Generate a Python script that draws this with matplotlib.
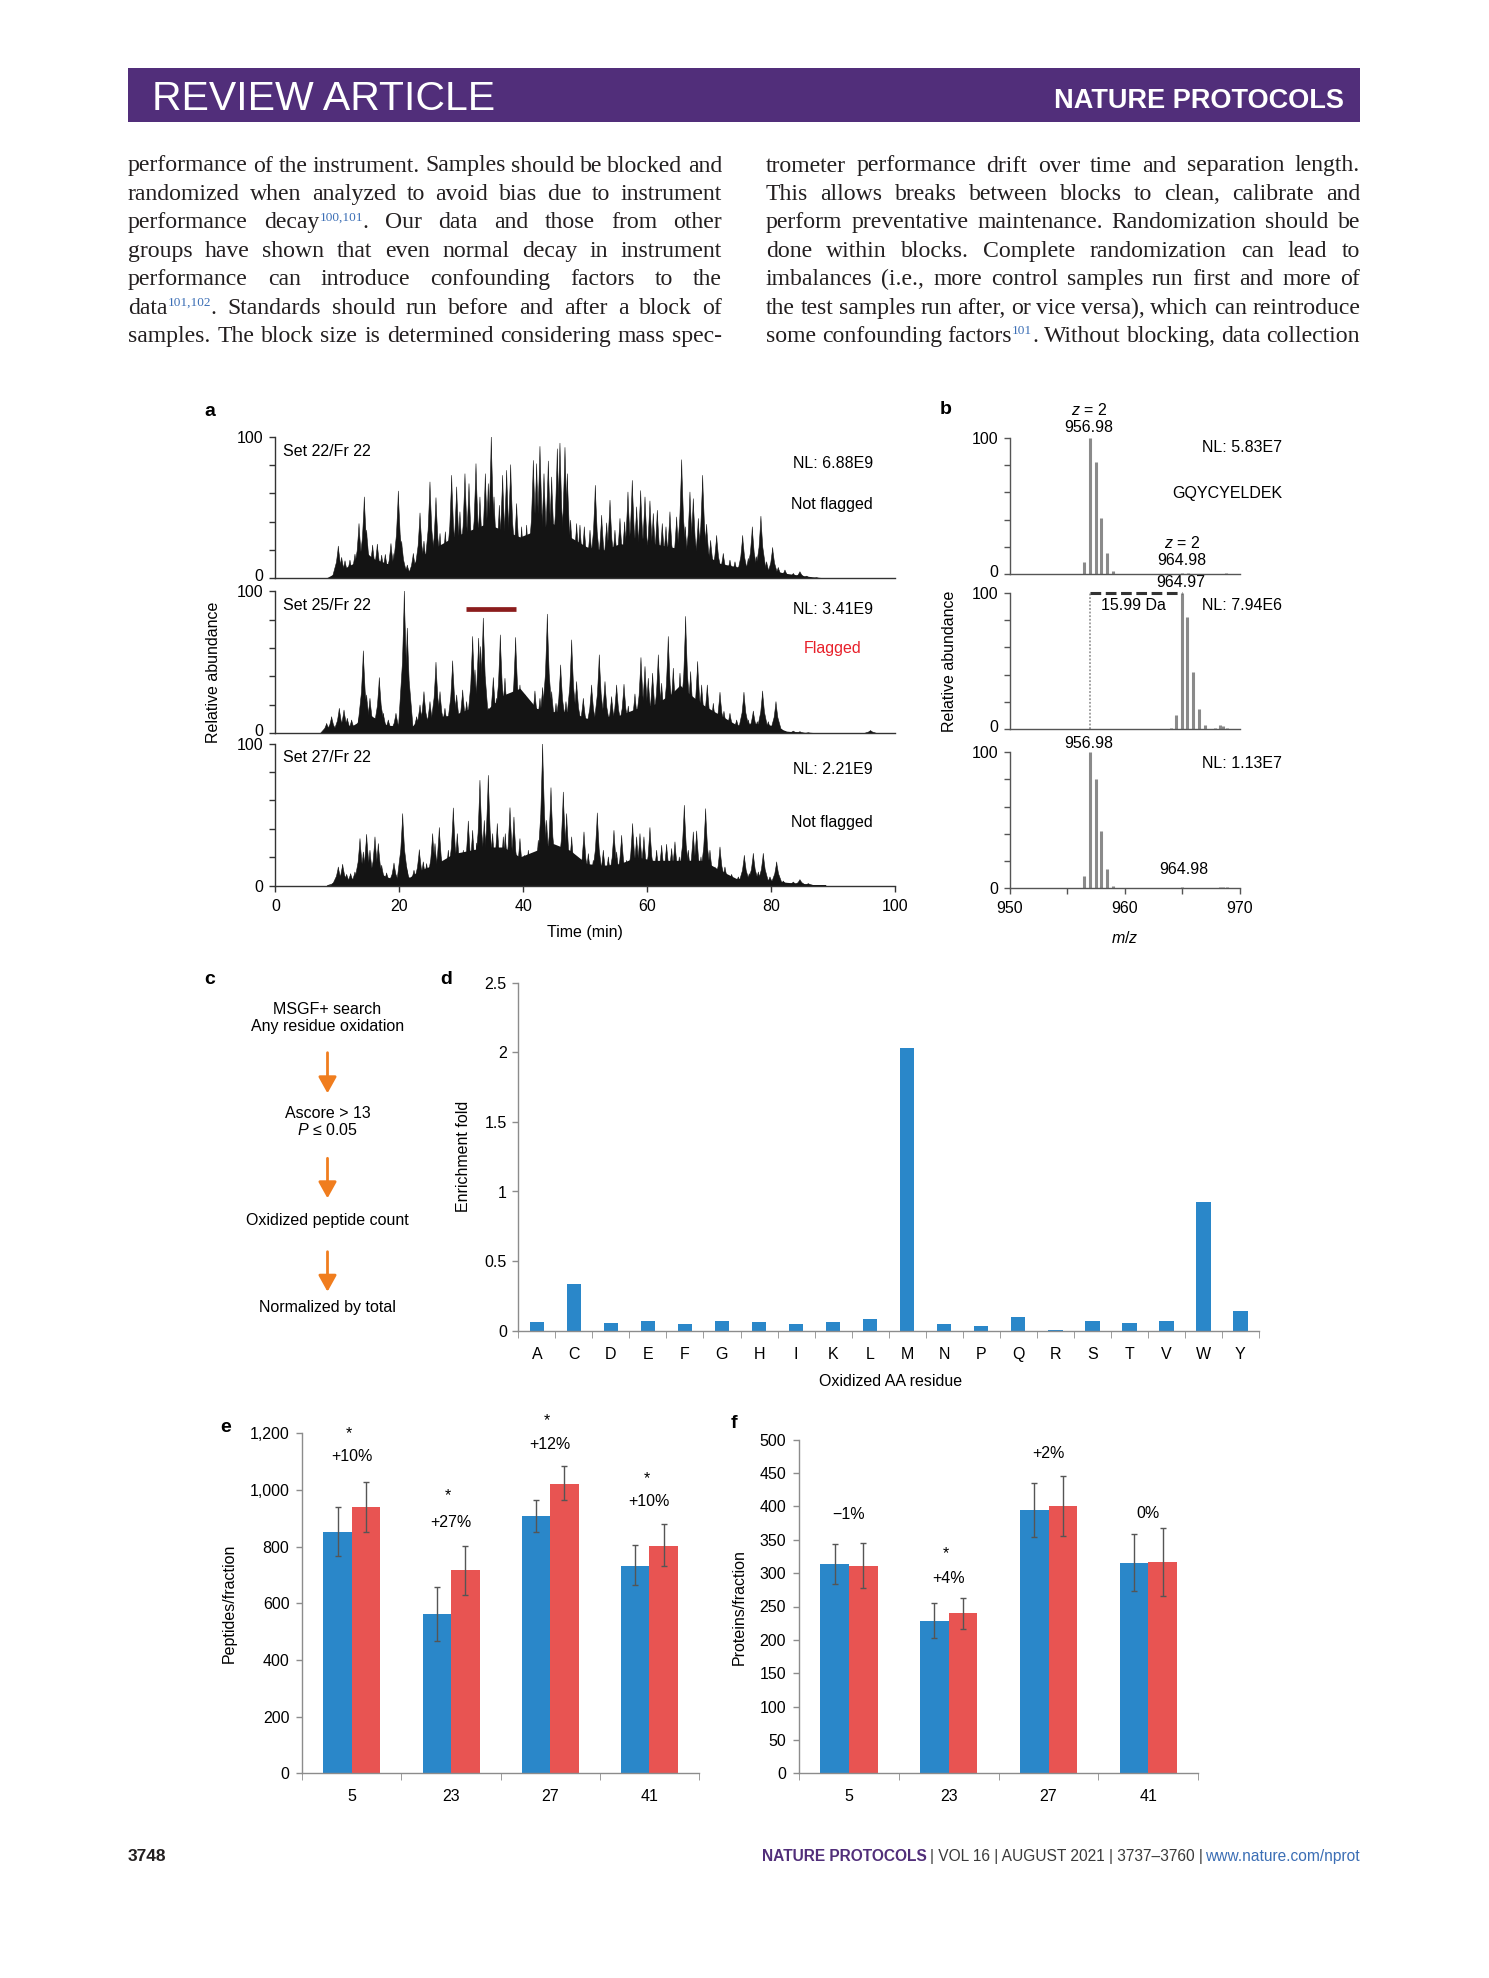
import re
import matplotlib
matplotlib.use('Agg')
import matplotlib.pyplot as plt
import matplotlib.transforms as mtransforms
import numpy as np
from matplotlib import font_manager
from matplotlib.collections import PolyCollection

names = {f.name for f in font_manager.fontManager.ttflist}
SANS = 'Liberation Sans'
NARROW = 'Liberation Sans Narrow' if 'Liberation Sans Narrow' in names else SANS
SERIF = 'Liberation Serif'

plt.rcParams['font.family'] = [SANS, 'DejaVu Sans']
plt.rcParams['font.size'] = 11.5
plt.rcParams['mathtext.fontset'] = 'custom'
plt.rcParams['mathtext.rm'] = SANS
plt.rcParams['mathtext.it'] = SANS + ':italic'

# ---------------- data ----------------
left_lines = [
    "performance of the instrument. Samples should be blocked and",
    "randomized when analyzed to avoid bias due to instrument",
    "performance decay{100,101}. Our data and those from other",
    "groups have shown that even normal decay in instrument",
    "performance can introduce confounding factors to the",
    "data{101,102}. Standards should run before and after a block of",
    "samples. The block size is determined considering mass spec-",
]
right_lines = [
    "trometer performance drift over time and separation length.",
    "This allows breaks between blocks to clean, calibrate and",
    "perform preventative maintenance. Randomization should be",
    "done within blocks. Complete randomization can lead to",
    "imbalances (i.e., more control samples run first and more of",
    "the test samples run after, or vice versa), which can reintroduce",
    "some confounding factors{101}. Without blocking, data collection",
]

# panel a: chromatogram peak apexes (time min, relative abundance)
a1_peaks = [(10.16, 22.8), (10.70, 14.8), (11.24, 12.4), (12.04, 12.9), (12.85, 17.1), (13.50, 38.7),
            (14.36, 57.5), (14.73, 34.0), (15.70, 23.5), (16.46, 24.2), (17.16, 16.4), (17.75, 16.9),
            (18.66, 24.6), (19.15, 17.6), (19.85, 61.7), (20.39, 26.1), (21.30, 9.4), (22.27, 17.6),
            (23.35, 46.2), (23.99, 26.3), (24.96, 68.1), (25.93, 57.0), (26.58, 31.7), (27.44, 32.9),
            (28.46, 72.8), (29.27, 64.6), (29.80, 47.0), (30.61, 73.9), (31.26, 66.9), (32.39, 81.0),
            (33.03, 57.5), (33.90, 73.9), (34.38, 66.9), (34.86, 100.0), (35.30, 57.5), (36.16, 51.6),
            (36.69, 72.8), (37.34, 76.3), (37.99, 80.3), (38.95, 52.8), (39.76, 36.4), (40.57, 37.6),
            (41.65, 83.3), (42.18, 81.0), (42.72, 93.2), (43.37, 73.9), (44.07, 82.9), (44.61, 71.6),
            (45.52, 91.5), (45.95, 95.5), (46.76, 92.5), (47.14, 73.9), (47.67, 41.1), (48.64, 38.7),
            (49.18, 37.6), (49.88, 36.4), (50.80, 34.0), (51.66, 65.7), (52.68, 44.6), (53.49, 39.2),
            (54.03, 55.2), (54.83, 34.0), (55.64, 42.3), (56.39, 39.9), (56.93, 61.0), (57.63, 69.2),
            (58.33, 50.5), (58.98, 62.0), (59.68, 57.5), (60.48, 54.7), (61.02, 45.8), (61.67, 48.1),
            (62.47, 38.7), (63.07, 36.4), (63.71, 47.0), (64.79, 43.4), (65.60, 83.8), (66.19, 36.4),
            (66.94, 61.0), (67.48, 56.3), (68.29, 42.3), (68.99, 72.8), (69.63, 38.2), (70.28, 26.8),
            (71.25, 30.3), (72.32, 17.6), (73.40, 12.9), (74.21, 11.7), (75.45, 30.3), (76.36, 14.1),
            (77.01, 36.4), (77.71, 15.3), (78.40, 43.9), (79.32, 11.7), (80.29, 21.8), (81.20, 7.7),
            (82.28, 5.9), (83.63, 3.5), (84.70, 4.7), (85.78, 1.6), (87.39, 0.5)]
a1_floor = [(8.28, 0.5), (12.58, 10.6), (14.2, 20.0), (15.81, 14.0), (17.96, 10.6), (20.66, 8.2),
            (21.73, 4.7), (22.81, 14.0), (26.04, 22.3), (28.73, 29.3), (31.42, 34.0), (34.11, 38.7),
            (36.8, 34.0), (39.49, 29.3), (42.18, 34.0), (44.87, 38.7), (47.57, 29.3), (50.26, 22.3),
            (52.95, 20.0), (55.64, 24.6), (58.33, 22.3), (61.02, 24.6), (63.71, 22.3), (66.4, 20.0),
            (69.1, 17.6), (71.79, 10.6), (74.48, 8.2), (77.17, 9.4), (79.86, 5.9), (82.55, 3.5),
            (85.24, 1.9), (87.93, 0.5), (91.2, 0.0)]

a2_peaks = [(8.28, 7.0), (9.08, 11.7), (10.32, 17.6), (11.08, 16.4), (11.61, 10.6), (12.31, 9.4),
            (13.55, 11.7), (14.20, 58.0), (14.73, 27.0), (15.27, 24.6), (16.08, 10.6), (16.78, 39.2),
            (17.43, 14.1), (18.23, 9.4), (19.47, 14.1), (20.82, 100.0), (21.30, 74.0), (22.81, 11.7),
            (23.35, 20.0), (23.99, 29.3), (24.96, 22.3), (25.93, 50.0), (26.58, 29.3), (27.38, 17.6),
            (28.62, 51.0), (29.27, 27.0), (30.24, 30.5), (30.88, 22.3), (31.85, 68.1), (32.23, 44.6),
            (32.82, 66.9), (33.14, 61.0), (33.57, 81.0), (34.38, 17.6), (35.19, 39.2), (35.73, 24.6),
            (36.32, 69.2), (37.07, 38.7), (37.88, 24.6), (38.79, 67.4), (39.49, 34.0), (40.30, 27.0),
            (41.11, 22.3), (41.91, 29.8), (42.72, 24.6), (43.15, 32.2), (43.91, 83.8), (44.61, 29.3),
            (45.31, 21.1), (46.06, 48.1), (46.92, 22.3), (47.84, 65.7), (48.64, 36.4), (49.72, 24.6),
            (51.06, 34.0), (52.30, 55.2), (53.22, 36.4), (54.29, 25.8), (55.10, 34.0), (56.29, 34.5),
            (56.98, 19.2), (58.06, 27.7), (59.03, 53.3), (59.68, 47.0), (60.21, 38.7), (60.91, 42.3),
            (61.83, 55.2), (62.37, 35.2), (63.44, 68.1), (64.25, 45.8), (65.33, 42.3), (66.24, 82.2),
            (67.05, 43.4), (68.18, 50.5), (68.83, 34.0), (69.74, 34.0), (70.71, 21.1), (71.79, 28.9),
            (72.43, 15.5), (73.40, 14.1), (74.48, 9.4), (75.66, 28.9), (76.36, 9.4), (77.17, 15.7),
            (77.81, 8.2), (78.67, 29.8), (79.59, 8.2), (80.83, 22.3), (81.74, 3.1), (83.63, 1.6),
            (84.70, 1.2), (86.05, 0.5), (96.1, 2.0)]
a2_floor = [(8.01, 1.2), (12.58, 5.9), (15.27, 12.9), (17.96, 5.9), (20.66, 4.7), (21.73, 3.5),
            (22.81, 8.2), (26.04, 11.7), (28.73, 12.9), (31.42, 17.6), (33.03, 34.0), (34.11, 16.4),
            (36.80, 27.0), (39.49, 31.7), (42.18, 17.6), (44.87, 15.3), (47.57, 15.3), (50.26, 10.6),
            (52.95, 11.7), (55.64, 12.9), (58.33, 17.6), (61.02, 20.0), (63.71, 27.0), (65.33, 34.0),
            (66.40, 29.3), (69.10, 20.0), (71.79, 12.9), (74.48, 5.9), (77.17, 7.0), (79.86, 5.9),
            (82.55, 1.6), (85.24, 0.5), (87.93, 0.0)]

a3_peaks = [(9.35, 1.8), (10.16, 13.1), (10.86, 15.0), (11.51, 7.9), (12.15, 8.4), (12.85, 9.6),
            (13.66, 33.1), (14.20, 23.7), (14.73, 36.1), (15.27, 24.9), (16.08, 34.3), (16.62, 29.6),
            (17.16, 14.3), (17.96, 8.9), (19.15, 15.9), (20.55, 50.7), (21.19, 13.1), (22.38, 10.8),
            (23.24, 25.3), (23.88, 16.7), (24.42, 15.5), (25.39, 36.6), (25.77, 29.6), (26.47, 40.9),
            (27.11, 15.5), (27.92, 24.9), (28.73, 54.7), (29.37, 36.6), (30.34, 24.9), (31.15, 45.5),
            (31.85, 38.9), (32.50, 30.0), (33.03, 74.2), (33.73, 45.9), (34.38, 77.7), (35.08, 36.6),
            (35.83, 43.7), (36.80, 34.3), (37.12, 36.6), (37.88, 54.9), (38.52, 48.3), (39.49, 33.1),
            (40.19, 21.3), (40.84, 24.9), (41.91, 22.5), (42.45, 31.9), (43.15, 100.0), (43.80, 46.0),
            (44.50, 69.0), (45.41, 24.9), (46.49, 65.9), (47.03, 50.7), (47.84, 34.3), (48.91, 15.5),
            (49.83, 37.8), (50.53, 22.5), (51.33, 17.8), (51.98, 51.2), (52.95, 24.9), (53.76, 20.2),
            (54.67, 38.9), (55.10, 23.7), (55.91, 35.4), (56.72, 17.8), (57.68, 43.7), (58.33, 34.3),
            (58.87, 36.6), (59.51, 34.3), (60.48, 40.9), (61.56, 24.9), (62.37, 28.4), (63.17, 29.1),
            (63.98, 26.1), (64.52, 30.8), (65.22, 20.2), (66.03, 56.6), (66.67, 24.9), (67.48, 37.8),
            (68.02, 38.5), (68.72, 20.2), (69.47, 54.2), (70.17, 24.9), (70.98, 13.1), (71.79, 27.2),
            (72.59, 13.1), (73.67, 7.9), (74.75, 6.1), (75.72, 21.3), (76.52, 8.4), (77.17, 22.7),
            (77.98, 9.6), (78.78, 22.7), (79.86, 6.1), (80.94, 16.7), (82.01, 3.2), (83.63, 2.5),
            (84.70, 4.2), (86.05, 1.4), (87.93, 0.2)]
a3_floor = [(8.81, 0.4), (12.58, 4.9), (13.66, 10.8), (15.27, 13.1), (17.96, 6.1), (20.12, 3.7),
            (21.73, 6.1), (23.35, 10.8), (26.04, 15.5), (28.73, 22.5), (31.42, 24.9), (34.11, 27.2),
            (36.80, 27.2), (39.49, 20.2), (42.18, 24.9), (44.87, 29.6), (47.57, 24.9), (50.26, 15.5),
            (52.95, 14.3), (55.64, 15.5), (58.33, 20.2), (61.02, 17.8), (63.71, 17.8), (66.40, 17.8),
            (69.10, 17.8), (71.79, 10.8), (74.48, 4.9), (77.17, 6.1), (79.86, 3.7), (82.55, 2.3),
            (85.24, 1.4), (87.93, 0.2)]
a_names = ["Set 22/Fr 22", "Set 25/Fr 22", "Set 27/Fr 22"]
a_nl = ["NL: 6.88E9", "NL: 3.41E9", "NL: 2.21E9"]
a_flag = ["Not flagged", "Flagged", "Not flagged"]
a_flag_window = (30.7, 38.9)

# panel b: isotope peaks (m/z, relative abundance)
b1_mz = [956.48, 956.98, 957.48, 957.98, 958.48, 958.98, 965.0, 965.5, 968.8]
b1_ab = [9, 100, 82, 41, 15, 2, 1, 0.7, 0.5]
b2_mz = [964.05, 964.47, 964.97, 965.47, 965.97, 966.47, 966.97, 967.9, 968.29, 968.58, 968.87]
b2_ab = [0.5, 10, 100, 82, 42, 15, 3, 1, 3, 2, 1]
b3_mz = [956.48, 956.98, 957.48, 957.98, 958.48, 958.98, 965.0, 965.4, 968.3, 968.6, 968.9]
b3_ab = [9, 100, 80, 42, 14, 2, 1, 0.5, 0.8, 1, 0.8]
b_nl = ["NL: 5.83E7", "NL: 7.94E6", "NL: 1.13E7"]
b_shift = (956.98, 964.97)

# panel c
c_steps = ["MSGF+ search\nAny residue oxidation", "Ascore > 13\n$P$ ≤ 0.05",
           "Oxidized peptide count", "Normalized by total"]

# panel d
d_res = list("ACDEFGHIKLMNPQRSTVWY")
d_fold = [0.06, 0.337, 0.055, 0.067, 0.048, 0.067, 0.062, 0.048, 0.062, 0.081,
          2.033, 0.048, 0.036, 0.096, 0.002, 0.069, 0.055, 0.067, 0.928, 0.144]

# panel e / f
groups = ["5", "23", "27", "41"]
e_blue = [853, 563, 908, 733]
e_blue_hi = [941, 659, 966, 805]
e_blue_lo = [768, 467, 853, 663]
e_red = [940, 716, 1021, 803]
e_red_hi = [1029, 803, 1083, 881]
e_red_lo = [851, 629, 965, 732]
e_pct = ["+10%", "+27%", "+12%", "+10%"]
e_star = [True, True, True, True]
e_pct_y = [1117, 884, 1159, 959]
e_star_y = [1200, 979, 1243, 1041]

f_blue = [313, 229, 394, 315]
f_blue_hi = [343, 255, 435, 358]
f_blue_lo = [284, 203, 354, 273]
f_red = [311, 240, 400, 316]
f_red_hi = [345, 263, 445, 368]
f_red_lo = [278, 217, 356, 266]
f_pct = ["\u22121%", "+4%", "+2%", "0%"]
f_star = [False, True, False, False]
f_pct_y = [388, 292, 480, 390]
f_star_y = [None, 329, None, None]

# ---------------- page ----------------
W, H = 1489, 1978
PURPLE = '#512e7a'
LINK = '#3b6eb5'
INK = '#231f20'
BLUE = '#2a87c9'
RED = '#e85452'

fig = plt.figure(figsize=(W / 100, H / 100), dpi=100)
page = fig.add_axes([0, 0, 1, 1])
page.set_xlim(0, W)
page.set_ylim(H, 0)
page.axis('off')
R = fig.canvas.get_renderer()


def box(l, t, r, b):
    ax = fig.add_axes([l / W, 1 - b / H, (r - l) / W, (b - t) / H])
    ax.set_facecolor('none')
    return ax


def style(ax, color='#333333', lw=1.0):
    for s in ['top', 'right']:
        ax.spines[s].set_visible(False)
    for s in ['left', 'bottom']:
        ax.spines[s].set_color(color)
        ax.spines[s].set_linewidth(lw)
    ax.tick_params(colors=color, labelcolor='black', direction='out', length=4.3,
                   width=lw, labelsize=11.5)


def lift_zero_label(ax, px=3):
    lab = ax.get_yticklabels()[0]
    lab.set_transform(lab.get_transform() + mtransforms.ScaledTranslation(0, px / 100, fig.dpi_scale_trans))


# header
page.add_patch(plt.Rectangle((128, 68.3), 1232, 54, color=PURPLE, lw=0))
page.text(152, 110, "REVIEW ARTICLE", color='white', fontsize=29.5, family=NARROW, va='baseline')
page.text(1344, 108.3, "NATURE PROTOCOLS", color='white', fontsize=19.5, family=SANS,
          weight='bold', va='baseline', ha='right')

# body text, justified
SUPSZ = 9.5


def split_words(text):
    out = []
    for w in text.split(' '):
        out.append([s for s in re.split(r'(\{[^}]*\})', w) if s])
    return out


def natural(text, size):
    total = 0
    for segs in split_words(text):
        for s in segs:
            sup = s.startswith('{')
            o = page.text(0, 0, s[1:-1] if sup else s, fontsize=SUPSZ if sup else size, family=SERIF)
            total += o.get_window_extent(R).width
            o.remove()
    return total, len(split_words(text))


BASESZ = 14.5
ratios = []
for line in left_lines + right_lines:
    tot, n = natural(line, BASESZ)
    ratios.append((594 - (n - 1) * 5.0) / tot)
BODYSZ = BASESZ * min(ratios)


def place_line(text, x0, x1, yb):
    items = []
    for segs in split_words(text):
        objs = []
        for s in segs:
            if s.startswith('{'):
                o = page.text(0, yb - 8, s[1:-1], fontsize=SUPSZ, color=LINK, family=SERIF, va='baseline')
            else:
                o = page.text(0, yb, s, fontsize=BODYSZ, color=INK, family=SERIF, va='baseline')
            objs.append(o)
        items.append((objs, [o.get_window_extent(R).width for o in objs]))
    total = sum(sum(ws) for _, ws in items)
    gap = (x1 - x0 - total) / max(len(items) - 1, 1)
    x = x0
    for objs, ws in items:
        for o, wd in zip(objs, ws):
            o.set_x(x)
            x += wd
        x += gap


for i, (ll, rl) in enumerate(zip(left_lines, right_lines)):
    yb = 171.5 + i * 28.45
    place_line(ll, 128, 722, yb)
    place_line(rl, 766, 1360, yb)

# footer
page.text(128, 1861, "3748", fontsize=12.5, family=NARROW, weight='bold', color=INK, va='baseline')
segs = [("NATURE PROTOCOLS", PURPLE, 'bold'), ("| VOL 16 | AUGUST 2021 | 3737\u20133760 |", '#3a3a3a', 'normal'),
        ("www.nature.com/nprot", LINK, 'normal')]
objs = []
for s, c, wt in segs:
    objs.append(page.text(0, 1861, s, color=c, weight=wt, fontsize=11.2, family=NARROW, va='baseline'))
widths = [o.get_window_extent(R).width for o in objs]
x = 1360 - sum(widths) - 3 * (len(objs) - 1)
for o, wd in zip(objs, widths):
    o.set_x(x)
    x += wd + 3

# panel letters
for lab, (x, y) in zip("abcdef", [(210, 411), (946, 410), (210, 980), (446, 980), (226, 1427), (734, 1424)]):
    page.text(x, y, lab, fontsize=14, weight='bold', family=NARROW, ha='center', va='center')

# ---------------- panel a ----------------
a_boxes = [(275.4, 436.8, 894.7, 578.4), (275.4, 591.1, 894.7, 733.4), (275.4, 743.7, 894.7, 885.6)]
a_data = [(a1_peaks, a1_floor), (a2_peaks, a2_floor), (a3_peaks, a3_floor)]
for k, (bx, (peaks, floor)) in enumerate(zip(a_boxes, a_data)):
    ax = box(*bx)
    style(ax, '#333333')
    ft, fh = zip(*floor)
    ax.fill_between(ft, fh, color='#141414', lw=0)
    # spiky peak shapes: sharp tip, broad foot
    polys = [[(t - 1.0, 0), (t - 0.3, 0.5 * h), (t - 0.07, 0.85 * h), (t, h),
              (t + 0.07, 0.85 * h), (t + 0.3, 0.5 * h), (t + 1.0, 0)] for t, h in peaks]
    ax.add_collection(PolyCollection(polys, facecolors='#141414', edgecolors='#141414', linewidths=0.4))
    ax.set_xlim(0, 100)
    ax.set_ylim(0, 100)
    ax.set_yticks(range(0, 101, 20))
    ax.set_yticklabels(['0', '', '', '', '', '100'])
    ax.tick_params(axis='y', pad=4.7)
    if k < 2:
        ax.tick_params(axis='x', length=0, labelbottom=False)
        lift_zero_label(ax)
    else:
        ax.set_xticks(range(0, 101, 20))
        ax.tick_params(axis='x', pad=5)
    yc = [451.7, 605, 758][k]
    page.text(283, yc, a_names[k], va='center', fontsize=11.5)
    page.text(873, [463.7, 609.4, 769][k], a_nl[k], va='center', ha='right', fontsize=11.5)
    if a_flag[k] == "Flagged":
        page.text(833, 648.6, a_flag[k], va='center', ha='center', color='#e8202a', fontsize=11.5)
        ax.plot(a_flag_window, [87.7, 87.7], color='#8b1c1c', lw=3.4, solid_capstyle='butt', clip_on=False)
    else:
        page.text(873, [504, 0, 822.8][k], a_flag[k], va='center', ha='right', fontsize=11.5)
page.text(213, 672, "Relative abundance", rotation=90, ha='center', va='center', fontsize=11.5)
page.text(584.7, 933, "Time (min)", ha='center', va='center', fontsize=11.5)

# ---------------- panel b ----------------
b_boxes = [(1009.5, 437.9, 1239.6, 573.9), (1009.5, 592.9, 1239.6, 728.9), (1009.5, 752, 1239.6, 888.4)]
b_data = [(b1_mz, b1_ab), (b2_mz, b2_ab), (b3_mz, b3_ab)]
for k, (bx, (mz, ab)) in enumerate(zip(b_boxes, b_data)):
    ax = box(*bx)
    style(ax, '#555555')
    ax.vlines(mz, 0, ab, color='#8a8a8a', lw=2.2)
    ax.set_xlim(950, 970)
    ax.set_ylim(0, 100)
    ax.set_yticks(range(0, 101, 20))
    ax.set_yticklabels(['0', '', '', '', '', '100'])
    ax.tick_params(axis='y', pad=3.6)
    if k < 2:
        ax.tick_params(axis='x', length=0, labelbottom=False)
        lift_zero_label(ax)
    else:
        ax.set_xticks(range(950, 971, 5))
        ax.set_xticklabels(['950', '', '960', '', '970'])
        ax.tick_params(axis='x', pad=5)
    page.text(1282, [448, 605.8, 763][k], b_nl[k], ha='right', va='center', fontsize=11.5)
    if k == 1:
        ax.vlines(b_shift[0], 0, 100, color='#999999', lw=1.3, linestyles=(0, (1, 1)))
        ax.plot(b_shift, [100, 100], color='#333333', lw=2.2, ls=(0, (3.5, 1.5)), clip_on=False)
page.text(1282, 493.7, "GQYCYELDEK", ha='right', va='center', fontsize=11.5)
page.text(1088.7, 410, "$z$ = 2", ha='center', va='center', fontsize=11.5)
page.text(1088.7, 427.5, "956.98", ha='center', va='center', fontsize=11.5)
page.text(1182.2, 543, "$z$ = 2", ha='center', va='center', fontsize=11.5)
page.text(1182.2, 560.5, "964.98", ha='center', va='center', fontsize=11.5)
page.text(1180.5, 582.5, "964.97", ha='center', va='center', fontsize=11.5)
page.text(1133.8, 605.8, "15.99 Da", ha='center', va='center', fontsize=11.5)
page.text(1088.7, 743.7, "956.98", ha='center', va='center', fontsize=11.5)
page.text(1183.9, 869.7, "964.98", ha='center', va='center', fontsize=11.5)
page.text(950, 661.7, "Relative abundance", rotation=90, ha='center', va='center', fontsize=11.5)
page.text(1124.4, 937.6, "$m/z$", ha='center', va='center', fontsize=11.5)

# ---------------- panel c ----------------
c_y = [1018.4, 1122, 1220, 1307.7]
for s, y in zip(c_steps, c_y):
    page.text(327.5, y, s, ha='center', va='center', fontsize=11.5, linespacing=1.15)
for y0, y1 in [(1052.7, 1093.3), (1158.3, 1198.3), (1251.7, 1291.7)]:
    page.annotate('', xy=(327.5, y1), xytext=(327.5, y0),
                  arrowprops=dict(arrowstyle='-|>,head_length=0.45,head_width=0.25', color='#f07d1e',
                                  lw=2, mutation_scale=22, shrinkA=0, shrinkB=0))

# ---------------- panel d ----------------
ax = box(518.3, 982.7, 1259, 1330.7)
style(ax, '#8c8c8c')
xd = np.arange(len(d_res))
ax.bar(xd, d_fold, 0.39, color=BLUE, lw=0)
ax.set_xlim(-0.5, len(d_res) - 0.5)
ax.set_ylim(0, 2.5)
ax.set_yticks([0, 0.5, 1, 1.5, 2, 2.5])
ax.set_yticklabels(['0', '0.5', '1', '1.5', '2', '2.5'])
ax.set_xticks(xd)
ax.set_xticklabels(d_res)
ax.set_xticks(np.arange(-0.5, len(d_res), 1), minor=True)
ax.tick_params(axis='x', which='major', length=0, pad=12)
ax.tick_params(axis='x', which='minor', length=5, color='#8c8c8c')
ax.tick_params(axis='y', pad=4)
page.text(463.8, 1156.5, "Enrichment fold", rotation=90, ha='center', va='center', fontsize=11.5)
page.text(891, 1382, "Oxidized AA residue", ha='center', va='center', fontsize=11.5)


# ---------------- panels e, f ----------------
def grouped(bx, blue, bhi, blo, red, rhi, rlo, ymax, ystep, ylabels, ylab, ylab_xy, pct, pct_y, star, star_y):
    ax = box(*bx)
    style(ax, '#8c8c8c')
    x = np.arange(len(groups))
    w = 0.287
    ax.bar(x - w, blue, w, align='edge', color=BLUE, lw=0)
    ax.bar(x, red, w, align='edge', color=RED, lw=0)
    blue, red = np.array(blue), np.array(red)
    ax.errorbar(x - w / 2, blue, yerr=[blue - np.array(blo), np.array(bhi) - blue], fmt='none',
                ecolor='#555555', elinewidth=1, capsize=2, capthick=1)
    ax.errorbar(x + w / 2, red, yerr=[red - np.array(rlo), np.array(rhi) - red], fmt='none',
                ecolor='#555555', elinewidth=1, capsize=2, capthick=1)
    ax.set_xlim(-0.5, len(groups) - 0.5)
    ax.set_ylim(0, ymax)
    ax.set_yticks(np.arange(0, ymax + 1, ystep))
    ax.set_yticklabels(ylabels)
    ax.set_xticks(x)
    ax.set_xticklabels(groups)
    ax.set_xticks(np.arange(-0.5, len(groups), 1), minor=True)
    ax.tick_params(axis='x', which='major', length=0, pad=11.5)
    ax.tick_params(axis='x', which='minor', length=5, color='#8c8c8c')
    ax.tick_params(axis='y', pad=5)
    for i in range(len(groups)):
        ax.text(x[i], pct_y[i], pct[i], ha='center', va='center', fontsize=11.5)
        if star[i]:
            ax.text(x[i] - 0.03, star_y[i], "*", ha='center', va='center', fontsize=11.5)
    page.text(ylab_xy[0], ylab_xy[1], ylab, rotation=90, ha='center', va='center', fontsize=11.5)


grouped((302.3, 1433.3, 699, 1773.3), e_blue, e_blue_hi, e_blue_lo, e_red, e_red_hi, e_red_lo,
        1200, 200, ['0', '200', '400', '600', '800', '1,000', '1,200'], "Peptides/fraction",
        (229.3, 1603.3), e_pct, e_pct_y, e_star, e_star_y)
grouped((799, 1439.7, 1198.3, 1773.3), f_blue, f_blue_hi, f_blue_lo, f_red, f_red_hi, f_red_lo,
        500, 50, [str(v) for v in range(0, 501, 50)], "Proteins/fraction",
        (739, 1606.7), f_pct, f_pct_y, f_star, f_star_y)

fig.savefig('out.png', dpi=100)
